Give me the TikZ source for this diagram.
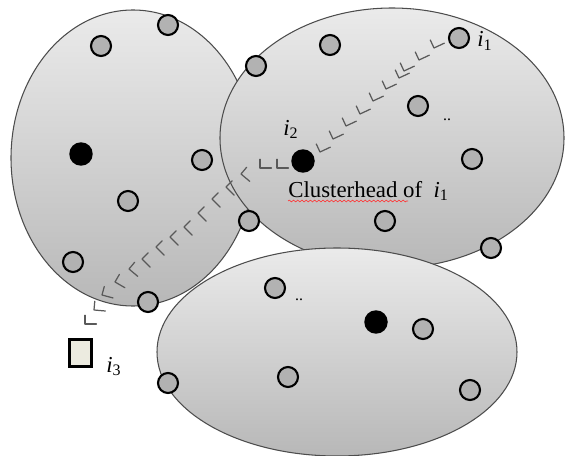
\documentclass[tikz,border=0pt]{standalone}
\usepackage{fontspec}
\setmainfont{Liberation Serif}
\usetikzlibrary{decorations.pathmorphing}
\begin{document}
\begin{tikzpicture}[x=0.02cm,y=-0.02cm,
  cluster/.style={draw=black!70, line width=0.6pt, top color=black!8, bottom color=black!28},
  sensor/.style={circle, draw=black, line width=1.2pt, fill=black!30, minimum size=0.4cm, inner sep=0pt},
  head/.style={circle, fill=black, minimum size=0.47cm, inner sep=0pt},
  lbl/.style={font=\fontsize{13}{15}\selectfont, inner sep=0pt},
  dots/.style={font=\fontsize{9}{10}\selectfont, inner sep=0pt},
  hopmark/.style={draw=black!65, line width=0.7pt, line cap=round, line join=round}]
\useasboundingbox (0,0) rectangle (565,456);
% clusters
\path[cluster] (133,158) ellipse [x radius=122, y radius=148];
\path[cluster] (392,138) ellipse [x radius=172, y radius=130];
\path[cluster] (337,352) ellipse [x radius=180, y radius=104];
% hop marks (path from i1 through i2 to i3)
\foreach \px/\py/\r in {434/48/25,419/60/25,404/71/25,399/78/25,386/89/25,373/101/25,360/114/25,346/126/25,333/139/25,320/152/25,
  277/168/0,260/168/0,241/174/-40,
  226/187/-45,212/199/-45,198/213/-45,184/227/-45,170/237/-45,156/247/-45,142/259/-45,129/269/-40,
  115/282/-30,102/295/-15,94/310/-5,85/324/0}
  \draw[hopmark, shift={(\px,\py)}, rotate=\r] (0pt,5pt) -- (0pt,0pt) -- (6.5pt,0pt);
% cluster A
\node[sensor] (a1) at (101,46) {};
\node[sensor] (a2) at (168,25) {};
\node[head]   (ha) at (81,154) {};
\node[sensor] (a3) at (202,160) {};
\node[sensor] (a4) at (128,201) {};
\node[sensor] (a5) at (73,262) {};
\node[sensor] (a6) at (148,302) {};
% cluster B
\node[sensor] (b1) at (256,66) {};
\node[sensor] (b2) at (330,45) {};
\node[sensor] (i1) at (459,38) {};
\node[sensor] (b3) at (418,106) {};
\node[head]   (i2) at (303,161) {};
\node[sensor] (b4) at (472,159) {};
\node[sensor] (b5) at (249,221) {};
\node[sensor] (b6) at (385,221) {};
\node[sensor] (b7) at (491,248) {};
% cluster C
\node[sensor] (c1) at (275,288) {};
\node[head]   (hc) at (376,322) {};
\node[sensor] (c2) at (423,329) {};
\node[sensor] (c3) at (288,377) {};
\node[sensor] (c4) at (470,390) {};
\node[sensor] (c5) at (168,383) {};
% lone node i3
\node[draw=black, line width=1.2pt, fill={rgb,255:red,236;green,235;blue,224}, minimum width=0.44cm, minimum height=0.54cm, inner sep=0pt] (i3) at (80.5,353) {};
% labels
\node[lbl, anchor=base west] (li1) at (477,47) {\itshape i\textsubscript{\upshape 1}};
\node[lbl, anchor=base west] (li2) at (283,135) {\itshape i\textsubscript{\upshape 2}};
\node[lbl, anchor=base west] (li3) at (106,372) {\itshape i\textsubscript{\upshape 3}};
\node[lbl, anchor=base west] (ch) at (288,197) {Clusterhead of\ \ \itshape i\textsubscript{\upshape 1}};
\draw[red!80, line width=0.35pt, decorate, decoration={snake, amplitude=0.5pt, segment length=2.4pt}] (ch.base west) ++(0,4) coordinate (u1) -- ++(120,0) coordinate (u2);
\node[dots] (d1) at (447,120) {..};
\node[dots] (d2) at (299,300) {..};
\end{tikzpicture}
\end{document}
